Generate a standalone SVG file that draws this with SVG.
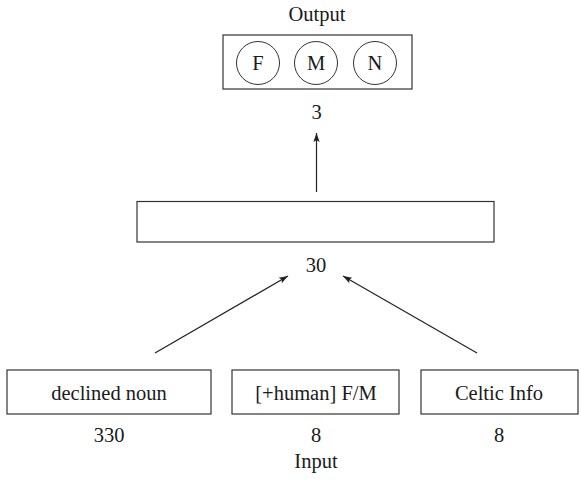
<svg xmlns="http://www.w3.org/2000/svg" width="581" height="481" viewBox="0 0 581 481">
<defs>
<style>
text{font-family:"Liberation Serif","Times New Roman",serif;font-size:20.5px;fill:#1a1a1a;text-anchor:middle}
.box{fill:#fff;stroke:#333;stroke-width:1.2}
.c{fill:none;stroke:#333;stroke-width:1}
.edge{stroke:#222;stroke-width:1.2;fill:none;marker-end:url(#ah)}
</style>
<marker id="ah" viewBox="0 0 10 10" refX="10" refY="5" markerWidth="9" markerHeight="9" markerUnits="userSpaceOnUse" orient="auto">
<path d="M0,1.5 L10,5 L0,8.5 L2,5 Z" fill="#222"/>
</marker>
</defs>
<g id="output">
<text x="317" y="21">Output</text>
<rect class="box" x="223" y="35" width="189" height="54"/>
<circle class="c" cx="258" cy="63" r="21.5"/>
<circle class="c" cx="316" cy="63" r="21.5"/>
<circle class="c" cx="375" cy="63" r="21.5"/>
<text x="258" y="70">F</text>
<text x="316" y="70">M</text>
<text x="375" y="70">N</text>
<text x="316.5" y="119">3</text>
</g>
<g id="hidden">
<rect class="box" x="137" y="201.5" width="357" height="40.5"/>
<text x="316" y="272">30</text>
</g>
<g id="in1">
<rect class="box" x="7" y="370" width="204" height="44"/>
<text x="109" y="400">declined noun</text>
<text x="109" y="442">330</text>
</g>
<g id="in2">
<rect class="box" x="232" y="370" width="167" height="44"/>
<text x="316" y="400">[+human] F/M</text>
<text x="316" y="442">8</text>
</g>
<g id="in3">
<rect class="box" x="421" y="370" width="157" height="44"/>
<text x="499" y="400">Celtic Info</text>
<text x="499" y="442">8</text>
</g>
<text x="316" y="468">Input</text>
<g id="connectors">
<line class="edge" x1="155" y1="353" x2="288" y2="276"/>
<line class="edge" x1="477" y1="353" x2="343" y2="276"/>
<line class="edge" x1="316.5" y1="192" x2="316.5" y2="133"/>
</g>
</svg>
